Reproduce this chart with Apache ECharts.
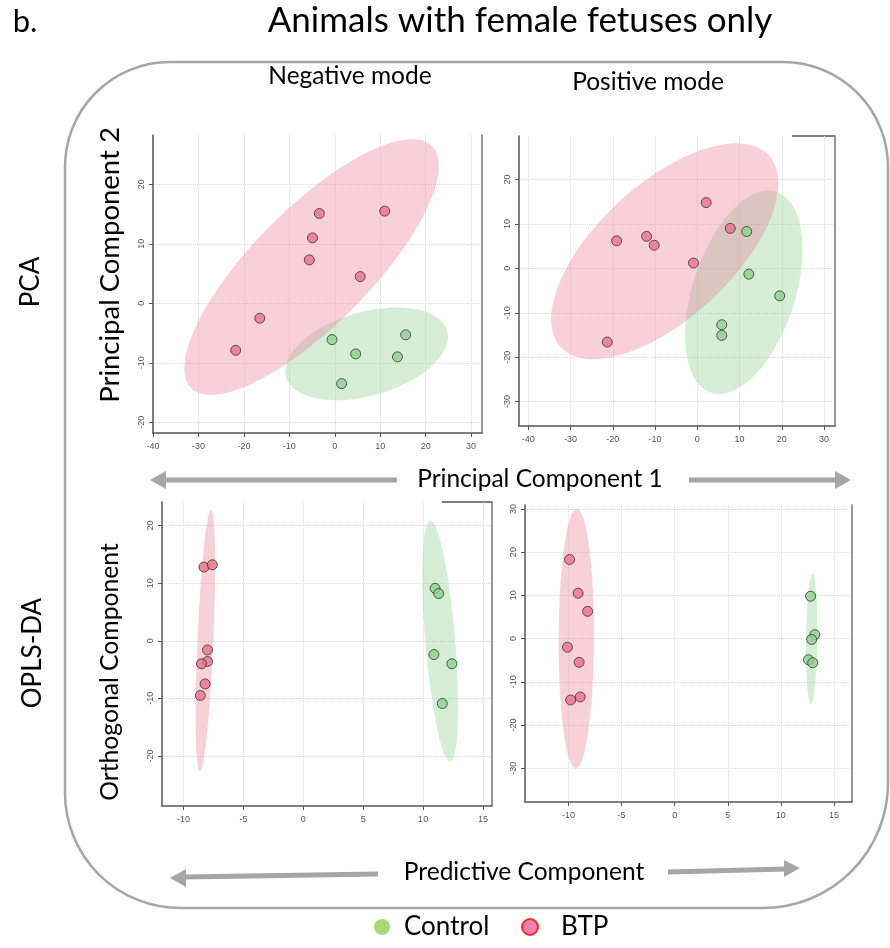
<!DOCTYPE html>
<html><head><meta charset="utf-8">
<script src="https://cdn.jsdelivr.net/npm/echarts@6/dist/echarts.min.js"></script>
<style>html,body{margin:0;padding:0;background:#fff}#c{width:890px;height:948px}</style>
</head><body><div id="c"></div>
<script>
// ---------- data ----------
const pcaNegControl = [[-0.6,-6.1],[4.6,-8.5],[15.6,-5.3],[13.8,-9.0],[1.5,-13.5]];
const pcaNegBTP = [[-3.4,15.1],[11.0,15.5],[-4.9,11.0],[-5.6,7.3],[5.6,4.5],[-16.5,-2.5],[-21.8,-7.9]];
const pcaPosControl = [[11.7,8.3],[12.2,-1.3],[19.5,-6.2],[5.8,-12.7],[5.8,-15.1]];
const pcaPosBTP = [[2.1,14.8],[7.8,9.0],[-19.1,6.2],[-12.0,7.2],[-10.2,5.2],[-0.9,1.2],[-21.3,-16.6]];
const oplsNegControl = [[11.0,9.1],[11.3,8.2],[10.9,-2.4],[12.4,-4.0],[11.6,-10.9]];
const oplsNegBTP = [[-8.3,12.8],[-7.6,13.2],[-8.0,-1.6],[-8.0,-3.6],[-8.5,-4.0],[-8.2,-7.5],[-8.6,-9.5]];
const oplsPosControl = [[12.8,9.8],[13.2,0.9],[12.9,-0.2],[12.6,-4.9],[13.0,-5.6]];
const oplsPosBTP = [[-9.9,18.3],[-9.1,10.5],[-8.2,6.3],[-10.1,-2.0],[-9.0,-5.5],[-8.9,-13.5],[-9.8,-14.2]];

// confidence ellipses: [centerX, centerY, radiusX, radiusY, correlation]
const pcaNegEllControl = [7.0,-8.5,17.9,7.8,0.37];
const pcaNegEllBTP = [-5.1,6.1,28.0,21.5,0.79];
const pcaPosEllControl = [11.0,-5.4,13.9,22.9,0.42];
const pcaPosEllBTP = [-7.7,3.85,26.9,24.3,0.63];
const oplsNegEllControl = [11.43,-0.05,1.49,20.9,-0.55];
const oplsNegEllBTP = [-8.18,0.0,0.81,22.7,0.58];
const oplsPosEllControl = [12.9,-0.05,0.53,15.1,0.15];
const oplsPosEllBTP = [-9.27,0.0,1.66,30.0,0.03];

// axis ranges and tick labels
const pcaNegX = [-40,32.4], pcaNegY = [-21.8,28.3];
const pcaPosX = [-42.2,32.6], pcaPosY = [-35.5,29.8];
const oplsNegX = [-11.8,15.75], oplsNegY = [-28.7,24.1];
const oplsPosX = [-14.1,16.7], oplsPosY = [-37.8,30.9];
const pcaNegXTicks = [-40,-30,-20,-10,0,10,20,30];
const pcaNegYTicks = [-20,-10,0,10,20];
const pcaPosXTicks = [-40,-30,-20,-10,0,10,20,30];
const pcaPosYTicks = [-30,-20,-10,0,10,20];
const oplsNegXTicks = [-10,-5,0,5,10,15];
const oplsNegYTicks = [-20,-10,0,10,20];
const oplsPosXTicks = [-10,-5,0,5,10,15];
const oplsPosYTicks = [-30,-20,-10,0,10,20,30];

const groupNames = ['Control','BTP'];

// ---------- chart ----------
const FONT = 'Lato, "Open Sans", sans-serif';
const panels = [
  {grid:{left:153,top:135,width:329,height:298}, x:pcaNegX, y:pcaNegY, xt:pcaNegXTicks, yt:pcaNegYTicks,
   c:pcaNegControl, b:pcaNegBTP, ec:pcaNegEllControl, eb:pcaNegEllBTP},
  {grid:{left:519,top:136,width:316,height:290}, x:pcaPosX, y:pcaPosY, xt:pcaPosXTicks, yt:pcaPosYTicks,
   c:pcaPosControl, b:pcaPosBTP, ec:pcaPosEllControl, eb:pcaPosEllBTP},
  {grid:{left:162,top:502,width:330,height:304}, x:oplsNegX, y:oplsNegY, xt:oplsNegXTicks, yt:oplsNegYTicks,
   c:oplsNegControl, b:oplsNegBTP, ec:oplsNegEllControl, eb:oplsNegEllBTP},
  {grid:{left:525,top:505,width:327,height:297}, x:oplsPosX, y:oplsPosY, xt:oplsPosXTicks, yt:oplsPosYTicks,
   c:oplsPosControl, b:oplsPosBTP, ec:oplsPosEllControl, eb:oplsPosEllBTP}
];

const AXC = '#555';
function xAxis(i,p){
  return {type:'value', gridIndex:i, min:p.x[0], max:p.x[1],
    axisLine:{show:true,onZero:false,lineStyle:{color:AXC,width:1.5}},
    axisTick:{show:true,length:4,customValues:p.xt,lineStyle:{color:AXC}},
    axisLabel:{customValues:p.xt,fontSize:9,color:'#555',margin:9,fontFamily:'"Liberation Sans", Arial'},
    splitLine:{show:true,lineStyle:{color:'#dcdcdc',type:'dotted',width:1}}};
}
function yAxis(i,p){
  return {type:'value', gridIndex:i, min:p.y[0], max:p.y[1],
    axisLine:{show:true,onZero:false,lineStyle:{color:AXC,width:1.5}},
    axisTick:{show:true,length:4,customValues:p.yt,lineStyle:{color:AXC}},
    axisLabel:{customValues:p.yt,fontSize:9,color:'#555',margin:7,rotate:90,fontFamily:'"Liberation Sans", Arial'},
    splitLine:{show:true,lineStyle:{color:'#dcdcdc',type:'dotted',width:1}}};
}
function yRight(i,p){
  return {type:'value', gridIndex:i, position:'right', min:p.y[0], max:p.y[1],
    axisLine:{show:true,onZero:false,lineStyle:{color:'#777',width:1.5}},
    axisTick:{show:false}, axisLabel:{show:false}, splitLine:{show:false}};
}
function ellipse(i,name,e,color){
  return {type:'custom', name:name+' ellipse', xAxisIndex:i, yAxisIndex:i, data:[e], z:1, silent:true,
    encode:{x:0,y:1},
    renderItem(params, api){
      const cx=api.value(0), cy=api.value(1), rx=api.value(2), ry=api.value(3), rho=api.value(4);
      const s=Math.sqrt(1-rho*rho), pts=[];
      for(let k=0;k<120;k++){
        const t=2*Math.PI*k/120;
        pts.push(api.coord([cx+rx*Math.cos(t), cy+ry*(rho*Math.cos(t)+s*Math.sin(t))]));
      }
      return {type:'polygon', shape:{points:pts}, style:{fill:color}};
    }};
}
function scatter(i,name,data,color){
  return {type:'scatter', name, xAxisIndex:i, yAxisIndex:i, data, z:3, symbolSize:10,
    itemStyle:{color, borderColor:'#333', borderWidth:1}};
}

const xAxes=[], yAxes=[], yRights=[], series=[];
panels.forEach((p,i)=>{
  xAxes.push(xAxis(i,p)); yAxes.push(yAxis(i,p)); yRights.push(yRight(i,p));
  series.push(ellipse(i,'Control',p.ec,'rgba(120,200,120,0.30)'));
  series.push(ellipse(i,'BTP',p.eb,'rgba(235,120,150,0.35)'));
  series.push(scatter(i,groupNames[0],p.c,'#8fd18f'));
  series.push(scatter(i,groupNames[1],p.b,'#e8718c'));
});

function txt(text,x,y,size,rot){
  return {type:'text', x, y, rotation:rot||0, z:10,
    style:{text, fill:'#000', font:size+'px '+FONT, textAlign:'center', textVerticalAlign:'middle'}};
}
const ARC = '#a6a6a6';
function shaft(x1,y1,x2,y2){
  return {type:'line', shape:{x1,y1,x2,y2}, style:{stroke:ARC,lineWidth:5}};
}
function head(pts){ return {type:'polygon', shape:{points:pts}, style:{fill:ARC}}; }

const legendBase = {top:914, padding:0, itemWidth:16, itemHeight:16, icon:'circle'};
const option = {
  animation:false,
  backgroundColor:'#fff',
  grid: panels.map(p=>p.grid),
  xAxis: xAxes,
  yAxis: yAxes.concat(yRights),
  series,
  legend:[
    Object.assign({}, legendBase, {left:374,
      textStyle:{fontSize:26, color:'#000', fontFamily:FONT, padding:[0,0,0,9]},
      data:[{name:groupNames[0], itemStyle:{color:'#92d050', borderWidth:0}}]}),
    Object.assign({}, legendBase, {left:521,
      textStyle:{fontSize:26, color:'#000', fontFamily:FONT, padding:[0,0,0,18]},
      data:[{name:groupNames[1], itemStyle:{color:'#e8609a', borderColor:'#ff0000', borderWidth:2}}]})
  ],
  graphic:[
    {type:'rect', shape:{x:65,y:62,width:823,height:846,r:[105,105,125,115]},
     style:{fill:'none',stroke:ARC,lineWidth:2.5}, z:-1},
    txt('b.',25,22,31),
    txt('Animals with female fetuses only',520,21,35),
    txt('Negative mode',350,76,24.5),
    txt('Positive mode',648,82,24.5),
    txt('PCA',31,282,26,Math.PI/2),
    txt('OPLS-DA',33,653,26,Math.PI/2),
    txt('Principal Component 2',110,265,27.5,Math.PI/2),
    txt('Orthogonal Component',110,672,24.7,Math.PI/2),
    txt('Principal Component 1',540,479,24.5),
    txt('Predictive Component',524,872,24.5),
    shaft(397,480,163,480), head([[150,480],[166,471],[166,489]]),
    shaft(689,480,837,480), head([[851,480],[835,471],[835,489]]),
    shaft(378,874,184,877), head([[170,878],[186,869],[186,887]]),
    shaft(668,872,786,869), head([[800,868],[784,860],[784,877]]),
    {type:'line', shape:{x1:792,y1:136,x2:835,y2:136}, style:{stroke:AXC,lineWidth:1.5}},
    {type:'line', shape:{x1:442,y1:502,x2:492,y2:502}, style:{stroke:AXC,lineWidth:1.5}}
  ]
};
const chart = echarts.init(document.getElementById('c'), null, {renderer:'canvas'});
chart.setOption(option);
</script></body></html>
